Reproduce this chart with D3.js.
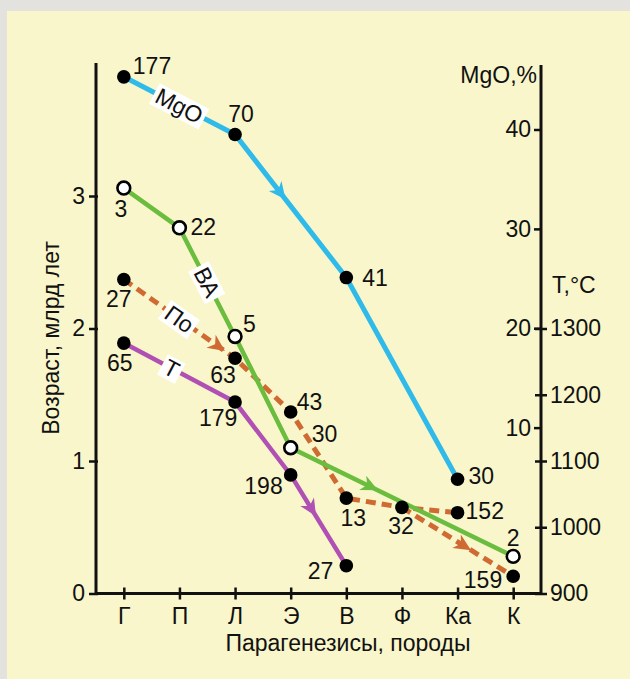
<!DOCTYPE html>
<html>
<head>
<meta charset="utf-8">
<script src="https://cdn.jsdelivr.net/npm/d3@7"></script>
<style>
  body { margin: 0; background: #e4e2df; }
  svg text { font-family: "Liberation Sans", Arial, sans-serif; fill: #111; }
</style>
</head>
<body>
<div id="chart"></div>
<script>
// categories on the x axis (парагенезисы)
var cats = ["Г", "П", "Л", "Э", "В", "Ф", "Ка", "К"];

// MgO, % (right axis)
var mgoCats = ["Г", "Л", "В", "Ка"];
var mgoVals = [45.3, 39.5, 25.1, 4.8];
var mgoN = [177, 70, 41, 30];

// T, °C (right axis)
var tCats = ["Г", "Л", "Э", "В"];
var tVals = [1278, 1189, 1079, 942];
var tN = [65, 179, 198, 27];

// ВА, age in Ga (left axis)
var vaCats = ["Г", "П", "Л", "Э", "К"];
var vaVals = [3.06, 2.76, 1.94, 1.10, 0.28];
var vaN = [3, 22, 5, 30, 2];

// По, age in Ga (left axis); last point is on a branch from Ф
var poCats = ["Г", "Л", "Э", "В", "Ф", "Ка", "К"];
var poVals = [2.37, 1.775, 1.37, 0.72, 0.65, 0.61, 0.13];
var poN = [27, 63, 43, 13, 32, 152, 159];

var ageTicks = [0, 1, 2, 3];
var mgoTicks = [10, 20, 30, 40];
var tTicks = [900, 1000, 1100, 1200, 1300];

var width = 630, height = 679;
var fs = 23;

var svg = d3.select("#chart").append("svg")
    .attr("width", width)
    .attr("height", height);

// yellow panel
svg.append("rect")
    .attr("x", 7).attr("y", 11)
    .attr("width", width - 7).attr("height", height - 11)
    .attr("fill", "#f8f6ca");

// scales
var x = d3.scalePoint().domain(cats).range([96, 541]).padding(0.5);
var yAge = d3.scaleLinear().domain([0, 4]).range([593.5, 63.5]);
var yMg = d3.scaleLinear().domain([0, 40]).range([527, 129.5]);
var yT = d3.scaleLinear().domain([900, 1300]).range([593.5, 328.5]);

function pts(cs, vs, sc) {
    return cs.map(function (c, i) { return [x(c), sc(vs[i])]; });
}

var mgoP = pts(mgoCats, mgoVals, yMg);
var tP = pts(tCats, tVals, yT);
var vaP = pts(vaCats, vaVals, yAge);
var poP = pts(poCats, poVals, yAge);
var poMain = poP.slice(0, 6);
var poBranch = [poP[4], poP[6]];

var line = d3.line();

// axes
var gx = svg.append("g").attr("transform", "translate(0,593.5)")
    .call(d3.axisBottom(x).tickSize(6).tickSizeOuter(0));
gx.select(".domain").remove();
gx.append("line").attr("x1", 96).attr("x2", 541).attr("stroke", "#111").attr("stroke-width", 3);
gx.selectAll(".tick line").attr("y1", -6).attr("stroke", "#111").attr("stroke-width", 2.5);
gx.selectAll(".tick text").attr("y", 14).attr("font-size", fs).attr("font-family", null);

var gl = svg.append("g").attr("transform", "translate(96,0)")
    .call(d3.axisLeft(yAge).tickValues(ageTicks).tickSize(7).tickPadding(4).tickFormat(d3.format("d")));
gl.select(".domain").remove();
gl.append("line").attr("y1", 63).attr("y2", 595).attr("stroke", "#111").attr("stroke-width", 3);
gl.selectAll(".tick line").attr("x1", 2).attr("stroke", "#111").attr("stroke-width", 2.5);
gl.selectAll(".tick text").attr("font-size", fs).attr("font-family", null);

var gr = svg.append("g").attr("transform", "translate(541,0)");
gr.append("line").attr("y1", 65).attr("y2", 595).attr("stroke", "#111").attr("stroke-width", 3);
var gm = gr.append("g")
    .call(d3.axisLeft(yMg).tickValues(mgoTicks).tickSize(7).tickPadding(3).tickFormat(d3.format("d")));
gm.select(".domain").remove();
gm.selectAll(".tick line").attr("stroke", "#111").attr("stroke-width", 2.5);
gm.selectAll(".tick text").attr("font-size", fs).attr("font-family", null);
var gt = gr.append("g")
    .call(d3.axisRight(yT).tickValues(tTicks).tickSize(6).tickPadding(3).tickFormat(d3.format("d")));
gt.select(".domain").remove();
gt.selectAll(".tick line").attr("x1", -6).attr("stroke", "#111").attr("stroke-width", 2.5);
gt.selectAll(".tick text").attr("font-size", fs).attr("font-family", null);

// axis titles
svg.append("text").attr("x", 348).attr("y", 651)
    .attr("text-anchor", "middle").attr("font-size", fs)
    .text("Парагенезисы, породы");
svg.append("text")
    .attr("transform", "translate(59,338) rotate(-90)")
    .attr("text-anchor", "middle").attr("font-size", fs)
    .text("Возраст, млрд лет");
svg.append("text").attr("x", 537).attr("y", 83)
    .attr("text-anchor", "end").attr("font-size", fs)
    .text("MgO,%");
svg.append("text").attr("x", 552).attr("y", 293)
    .attr("font-size", fs)
    .text("T,°C");

// series lines
var colors = { mgo: "#2fbaea", t: "#b04fb4", va: "#6abd3e", po: "#cf6a32" };

svg.append("path").attr("d", line(poMain)).attr("fill", "none")
    .attr("stroke", colors.po).attr("stroke-width", 5).attr("stroke-dasharray", "10,6");
svg.append("path").attr("d", line(poBranch)).attr("fill", "none")
    .attr("stroke", colors.po).attr("stroke-width", 5).attr("stroke-dasharray", "10,6");
svg.append("path").attr("d", line(tP)).attr("fill", "none")
    .attr("stroke", colors.t).attr("stroke-width", 4.5);
svg.append("path").attr("d", line(vaP)).attr("fill", "none")
    .attr("stroke", colors.va).attr("stroke-width", 4.5);
svg.append("path").attr("d", line(mgoP)).attr("fill", "none")
    .attr("stroke", colors.mgo).attr("stroke-width", 5);

// direction arrows: [points, segment index, position along segment, colour]
var arrows = [
    [mgoP, 1, 0.41, colors.mgo],
    [poP, 0, 0.85, colors.po],
    [vaP, 3, 0.36, colors.va],
    [poBranch, 0, 0.56, colors.po],
    [tP, 2, 0.38, colors.t]
];
arrows.forEach(function (a) {
    var p0 = a[0][a[1]], p1 = a[0][a[1] + 1], t = a[2];
    var ax = p0[0] + (p1[0] - p0[0]) * t, ay = p0[1] + (p1[1] - p0[1]) * t;
    var ang = Math.atan2(p1[1] - p0[1], p1[0] - p0[0]) * 180 / Math.PI;
    svg.append("path")
        .attr("d", "M8,0 L-9,-8 L-4,0 L-9,8 Z")
        .attr("transform", "translate(" + ax + "," + ay + ") rotate(" + ang + ")")
        .attr("fill", a[3]);
});

// series name labels on white boxes: [points, segment, position, text]
var names = [
    [mgoP, 0, 0.5, "MgO"],
    [vaP, 1, 0.5, "ВА"],
    [poP, 0, 0.5, "По"],
    [tP, 0, 0.43, "Т"]
];
names.forEach(function (n) {
    var p0 = n[0][n[1]], p1 = n[0][n[1] + 1], t = n[2];
    var cx = p0[0] + (p1[0] - p0[0]) * t, cy = p0[1] + (p1[1] - p0[1]) * t;
    var ang = Math.atan2(p1[1] - p0[1], p1[0] - p0[0]) * 180 / Math.PI;
    var g = svg.append("g").attr("transform", "translate(" + cx + "," + cy + ") rotate(" + ang + ")");
    var rect = g.append("rect").attr("fill", "#fff");
    var txt = g.append("text").attr("text-anchor", "middle").attr("dy", "0.36em")
        .attr("font-size", fs).text(n[3]);
    var bb = txt.node().getBBox();
    rect.attr("x", bb.x - 3).attr("y", bb.y + 2).attr("width", bb.width + 6).attr("height", bb.height - 3);
});

// markers and sample counts
// label placement per point: [dx, dy, anchor]
function markers(p, open, counts, offs) {
    var g = svg.append("g");
    g.selectAll("circle").data(p).enter().append("circle")
        .attr("cx", function (d) { return d[0]; })
        .attr("cy", function (d) { return d[1]; })
        .attr("r", open ? 6.4 : 6.8)
        .attr("fill", open ? "#fff" : "#000")
        .attr("stroke", open ? "#000" : "none")
        .attr("stroke-width", 2.6);
    g.selectAll("text").data(p).enter().append("text")
        .attr("x", function (d, i) { return d[0] + offs[i][0]; })
        .attr("y", function (d, i) { return d[1] + offs[i][1]; })
        .attr("text-anchor", function (d, i) { return offs[i][2]; })
        .attr("font-size", fs)
        .text(function (d, i) { return counts[i]; });
}

markers(poP, false, poN, [
    [-5, 28, "middle"], [-12, 25, "middle"], [6, -2, "start"], [7, 28, "middle"],
    [-1, 27, "middle"], [8, 6, "start"], [-11, 12, "end"]
]);
markers(tP, false, tN, [
    [-4, 28, "middle"], [-17, 24, "middle"], [-8, 19, "end"], [-13, 13, "end"]
]);
markers(mgoP, false, mgoN, [
    [9, -3, "start"], [6, -12, "middle"], [16, 8, "start"], [11, 5, "start"]
]);
markers(vaP, true, vaN, [
    [-3, 29, "middle"], [11, 7, "start"], [8, -4, "start"], [21, -6, "start"], [0, -10, "middle"]
]);
</script>
</body>
</html>
